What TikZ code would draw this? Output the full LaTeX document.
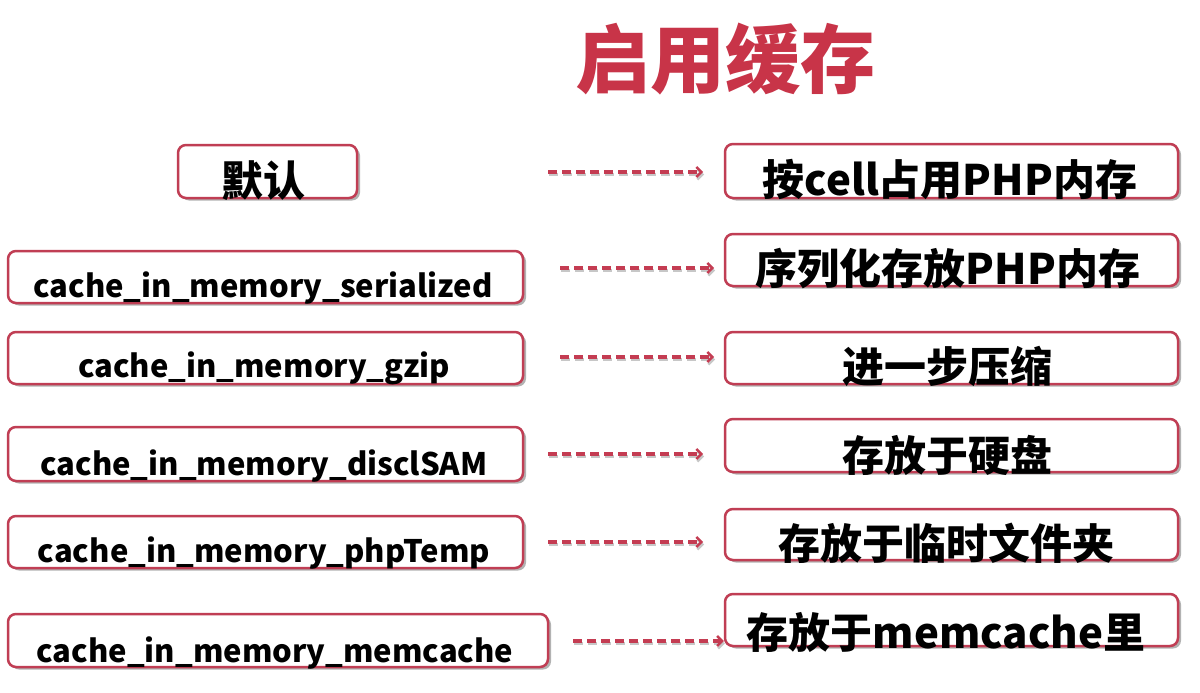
\documentclass[tikz,border=0pt]{standalone}
\usepackage{fontspec}
\newfontfamily\cjk{Noto Sans CJK SC}
\usetikzlibrary{arrows.meta,shadows}
\definecolor{boxred}{RGB}{192,62,84}
\definecolor{titlered}{RGB}{200,52,72}
\definecolor{arrred}{RGB}{196,60,82}
\begin{document}
\begin{tikzpicture}[x=1pt,y=-1pt,
  box/.style={draw=boxred, line width=2.5pt, rounded corners=8pt, fill=white,
    drop shadow={shadow xshift=3pt,shadow yshift=-2.5pt,fill=black!55,opacity=0.55},
    inner sep=0pt},
  lbl/.style={font=\cjk\bfseries\fontsize{42}{50}\selectfont, anchor=base, inner sep=0pt},
  code/.style={font=\cjk\bfseries\fontsize{31}{37}\selectfont, anchor=base, inner sep=0pt},
  ttl/.style={font=\cjk\bfseries\fontsize{75}{80}\selectfont, anchor=base, inner sep=0pt, text=titlered},
  arr/.style={draw=arrred, line width=3.5pt, dash pattern=on 9pt off 5pt,
    -{Straight Barb[length=5pt,width=10pt,line width=2.4pt]},
    preaction={draw=black!22, line width=3pt, dash pattern=on 9pt off 5pt, transform canvas={shift={(1pt,-2.5pt)}}}}
]
\useasboundingbox (0,0) rectangle (1200,693);
\fill[white] (0,0) rectangle (1200,693);

\node[ttl] (title) at (725,88) {启用缓存};

% left boxes
\node[box, minimum width=179pt, minimum height=53pt] (l1) at (267.5,171.5) {};
\node[box, minimum width=515pt, minimum height=52pt] (l2) at (265.5,277) {};
\node[box, minimum width=515pt, minimum height=52pt] (l3) at (265.5,358) {};
\node[box, minimum width=515pt, minimum height=54pt] (l4) at (265.5,454) {};
\node[box, minimum width=515pt, minimum height=52pt] (l5) at (265.5,542) {};
\node[box, minimum width=540pt, minimum height=53pt] (l6) at (278,640.5) {};

% right boxes
\node[box, minimum width=453pt, minimum height=54pt] (r1) at (951.5,171) {};
\node[box, minimum width=453pt, minimum height=52pt] (r2) at (951.5,260) {};
\node[box, minimum width=453pt, minimum height=52pt] (r3) at (951.5,358) {};
\node[box, minimum width=453pt, minimum height=53pt] (r4) at (951.5,445.5) {};
\node[box, minimum width=453pt, minimum height=51pt] (r5) at (951.5,534.5) {};
\node[box, minimum width=453pt, minimum height=52pt] (r6) at (951.5,620) {};

% left texts
\node[lbl] (t1) at (263,196) {默认};
\node[code] (t2) at (263,297) {cache\_in\_memory\_serialized};
\node[code] (t3) at (264,377) {cache\_in\_memory\_gzip};
\node[code] (t4) at (264,475) {cache\_in\_memory\_disclSAM};
\node[code] (t5) at (264,562) {cache\_in\_memory\_phpTemp};
\node[code] (t6) at (275,662) {cache\_in\_memory\_memcache};

% right texts
\node[lbl] (u1) at (950,195) {按cell占用PHP内存};
\node[lbl] (u2) at (948,284) {序列化存放PHP内存};
\node[lbl] (u3) at (947,382) {进一步压缩};
\node[lbl] (u4) at (947,471) {存放于硬盘};
\node[lbl] (u5) at (946,559) {存放于临时文件夹};
\node[lbl] (u6) at (946,648) {存放于memcache里};

% arrows
\coordinate (a1s) at (548,172); \coordinate (a1e) at (703,172);
\coordinate (a2s) at (560,268); \coordinate (a2e) at (714,268);
\coordinate (a3s) at (560,357); \coordinate (a3e) at (714,357);
\coordinate (a4s) at (548,454); \coordinate (a4e) at (703,454);
\coordinate (a5s) at (548,542); \coordinate (a5e) at (703,542);
\coordinate (a6s) at (573,641);
\draw[arr] (a1s) -- (a1e);
\draw[arr] (a2s) -- (a2e);
\draw[arr] (a3s) -- (a3e);
\draw[arr] (a4s) -- (a4e);
\draw[arr] (a5s) -- (a5e);
\draw[arr] (a6s) -- (r6.west |- a6s);
\end{tikzpicture}
\end{document}
